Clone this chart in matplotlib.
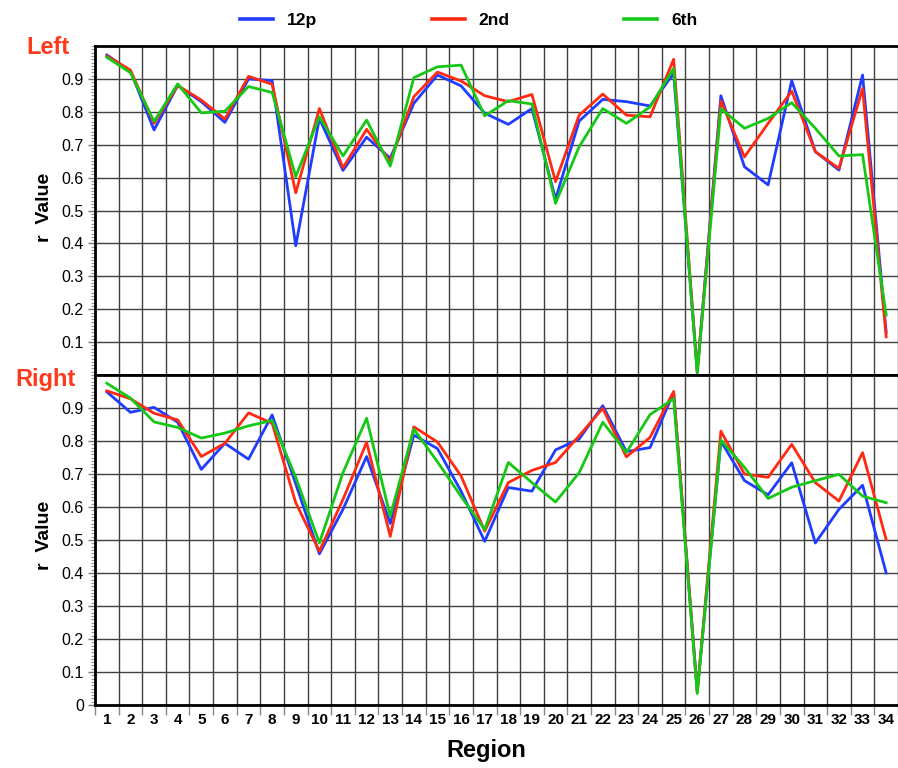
import numpy as np
import matplotlib
matplotlib.use("Agg")
from matplotlib import pyplot as plt
from matplotlib.ticker import MultipleLocator, FixedLocator, NullFormatter

plt.rcParams['font.family'] = ['Liberation Sans', 'DejaVu Sans']

# data
regions = list(range(1, 35))
series_names = ['12p', '2nd', '6th']

left_12p = [0.973, 0.924, 0.745, 0.880, 0.831, 0.768, 0.900, 0.895, 0.393, 0.780,
            0.622, 0.723, 0.659, 0.826, 0.912, 0.879, 0.796, 0.762, 0.810, 0.535,
            0.772, 0.838, 0.831, 0.818, 0.917, 0.010, 0.849, 0.633, 0.578, 0.895,
            0.679, 0.623, 0.912, 0.130]
left_2nd = [0.970, 0.927, 0.765, 0.880, 0.836, 0.778, 0.908, 0.884, 0.554, 0.810,
            0.630, 0.747, 0.649, 0.846, 0.921, 0.894, 0.849, 0.831, 0.853, 0.588,
            0.790, 0.854, 0.790, 0.785, 0.960, 0.010, 0.833, 0.663, 0.765, 0.863,
            0.679, 0.628, 0.871, 0.116]
left_6th = [0.966, 0.919, 0.771, 0.885, 0.797, 0.802, 0.877, 0.859, 0.603, 0.785,
            0.666, 0.775, 0.635, 0.904, 0.937, 0.942, 0.788, 0.834, 0.824, 0.522,
            0.694, 0.810, 0.765, 0.815, 0.932, 0.005, 0.810, 0.750, 0.780, 0.828,
            0.750, 0.666, 0.670, 0.182]

right_12p = [0.949, 0.887, 0.902, 0.857, 0.714, 0.793, 0.745, 0.879, 0.670, 0.458,
             0.593, 0.753, 0.550, 0.818, 0.777, 0.648, 0.496, 0.659, 0.648, 0.773,
             0.806, 0.907, 0.768, 0.780, 0.947, 0.040, 0.800, 0.680, 0.637, 0.734,
             0.491, 0.593, 0.666, 0.400]
right_2nd = [0.952, 0.928, 0.884, 0.864, 0.753, 0.793, 0.885, 0.854, 0.613, 0.466,
             0.623, 0.796, 0.511, 0.843, 0.797, 0.694, 0.527, 0.674, 0.711, 0.735,
             0.816, 0.899, 0.752, 0.811, 0.950, 0.040, 0.830, 0.700, 0.690, 0.790,
             0.674, 0.618, 0.765, 0.501]
right_6th = [0.975, 0.930, 0.858, 0.841, 0.809, 0.824, 0.846, 0.862, 0.690, 0.491,
             0.704, 0.869, 0.572, 0.836, 0.737, 0.632, 0.532, 0.735, 0.674, 0.615,
             0.704, 0.857, 0.765, 0.880, 0.928, 0.035, 0.803, 0.720, 0.626, 0.660,
             0.680, 0.699, 0.633, 0.613]

COLORS = ['#1f3cff', '#ff2a12', '#16c816']
LABEL_RED = '#ff3a1c'

fig = plt.figure(figsize=(8.98, 7.68), dpi=100)
ax_top = fig.add_axes([0.1058, 0.5117, 0.8942, 0.4283])
ax_bot = fig.add_axes([0.1058, 0.0820, 0.8942, 0.4297])

def style_axis(ax, yticks, show_x):
    ax.set_xlim(0.5, 34.5)
    ax.set_ylim(0, 1.0)
    # cell borders -> grid lines, labels at cell centers
    ax.xaxis.set_major_locator(FixedLocator(np.arange(0.5, 35, 1)))
    ax.xaxis.set_major_formatter(NullFormatter())
    ax.xaxis.set_minor_locator(FixedLocator(regions))
    ax.set_yticks(yticks)
    ax.set_yticklabels(['0' if v == 0 else '%.1f' % v for v in yticks], fontsize=11.5)
    ax.yaxis.set_minor_locator(MultipleLocator(0.01))
    ax.grid(True, which='major', color='#404040', lw=1.0)
    ax.set_axisbelow(True)
    ax.tick_params(axis='y', which='major', direction='out', length=5, width=1, color='#777777', pad=3)
    ax.tick_params(axis='y', which='minor', direction='out', length=3, width=0.8, color='#999999')
    if show_x:
        ax.set_xticklabels([str(r) for r in regions], minor=True, fontsize=11, fontweight='bold')
        ax.tick_params(axis='x', which='major', direction='out', length=7, width=1, color='#888888')
        ax.tick_params(axis='x', which='minor', length=0, pad=6)
    else:
        ax.tick_params(axis='x', which='both', length=0, labelbottom=False)
    for s in ['left', 'bottom', 'top']:
        ax.spines[s].set_linewidth(2)
        ax.spines[s].set_color('black')
    ax.spines['right'].set_visible(False)

style_axis(ax_top, np.arange(0.1, 0.95, 0.1), False)
style_axis(ax_bot, np.arange(0.0, 0.95, 0.1), True)

lines = []
for ys, c, n in zip([left_12p, left_2nd, left_6th], COLORS, series_names):
    l, = ax_top.plot(regions, ys, color=c, lw=2.0, label=n, clip_on=False)
    lines.append(l)
for ys, c in zip([right_12p, right_2nd, right_6th], COLORS):
    ax_bot.plot(regions, ys, color=c, lw=2.0, clip_on=False)

# legend on top
leg = fig.legend(handles=lines, loc='center', bbox_to_anchor=(0.522, 0.973), ncol=3,
                 frameon=False, handlelength=1.9, handletextpad=0.8, columnspacing=6.6,
                 prop={'weight': 'bold', 'size': 12.5})
for h in leg.get_lines():
    h.set_linewidth(2.6)

fig.text(0.029, 0.9297, 'Left', color=LABEL_RED, fontsize=17, fontweight='bold', va='baseline', ha='left')
fig.text(0.0167, 0.4974, 'Right', color=LABEL_RED, fontsize=17, fontweight='bold', va='baseline', ha='left')
fig.text(0.0496, 0.730, 'r  Value', rotation=90, fontsize=14, fontweight='bold', va='center', ha='center')
fig.text(0.0496, 0.303, 'r  Value', rotation=90, fontsize=14, fontweight='bold', va='center', ha='center')
fig.text(0.541, 0.023, 'Region', fontsize=17, fontweight='bold', va='center', ha='center')

plt.savefig('out.png', dpi=100)
